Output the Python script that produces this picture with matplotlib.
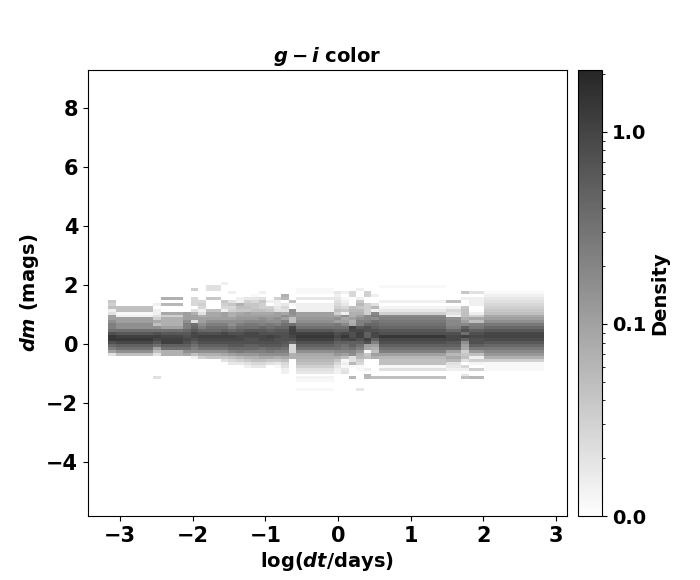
import numpy as np
import matplotlib
matplotlib.use('Agg')
import matplotlib.pyplot as plt
from matplotlib.colors import LogNorm
from matplotlib.ticker import FixedLocator, FormatStrFormatter, NullFormatter

# column edges in log(dt/days), irregular where neighbouring bins are merged
x_edges = [-3.16, -3.05, -2.54, -2.43, -2.13, -2.02, -1.93, -1.82, -1.61, -1.51, -1.40,
           -1.29, -1.20, -1.09, -0.99, -0.88, -0.78, -0.67, -0.58, -0.06, 0.04, 0.15,
           0.25, 0.36, 0.45, 0.56, 1.49, 1.69, 1.80, 2.01, 2.83]
# dm bins run from 2.1 downwards in 0.1 mag steps
dm_edges = [2.1, 2.0, 1.9, 1.8, 1.7, 1.6, 1.5, 1.4, 1.3, 1.2, 1.1, 1.0, 0.9, 0.8, 0.7, 0.6,
            0.5, 0.4, 0.3, 0.2, 0.1, 0.0, -0.1, -0.2, -0.3, -0.4, -0.5, -0.6, -0.7, -0.8,
            -0.9, -1.0, -1.1, -1.2, -1.3, -1.4, -1.5, -1.6]

# density per column, top row first, rows left out at the end are empty
c01 = [0, 0, 0, 0, 0, 0, .039, .032, .047, .0145, .021, .105, .105, .155, .23, .23, .34, .75, 1.37, 1.37, .75, .41, .23, .105, .021]
c02 = [0, 0, 0, 0, 0, 0, 0, 0, .047, .047, .012, .0145, .105, .105, .155, .155, .34, .61, 1.12, 1.37, .92, .5, .34, .155, .047]
c03 = [0, 0, 0, 0, 0, 0, 0, .0145, 0, .0145, .0145, .021, .032, .085, .047, .155, .34, .75, 1.12, .92, .61, .34, .105, .047, .021, 0, 0, 0, 0, 0, 0, 0, .021]
c04 = [0, 0, 0, 0, 0, .07, 0, .057, 0, 0, .085, .032, .07, .07, .07, .105, .34, .61, .92, 1.12, 1.12, .5, .34, .07, .07]
c05 = [0, 0, 0, 0, 0, 0, 0, 0, 0, 0, .105, .105, .105, .155, .23, .23, .41, .61, .75, .92, .75, .5, .34, .155, .085]
c06 = [0, 0, .032, 0, 0, .026, .026, .026, 0, .021, .07, .105, .105, .021, .34, .41, .61, .92, .92, .75, .5, .34, .23, .155, .047, .0145]
c07 = [0, 0, 0, 0, 0, 0, .026, .032, .026, .0145, .021, .07, .105, .105, .155, .23, .41, .75, 1.12, .92, .75, .5, .34, .155, .07, .032]
c08 = [0, .021, .021, 0, 0, .039, 0, 0, 0, .047, .085, .085, .105, .155, .23, .34, .41, .75, 1.12, .92, .75, .5, .34, .155, .07, .039]
c09 = [.0145, 0, 0, 0, 0, 0, .039, .032, .026, .0145, .105, .105, .105, .155, .23, .34, .5, .92, 1.12, .92, .75, .5, .34, .155, .085, .039, .021]
c10 = [0, 0, 0, .0145, 0, 0, .021, .039, .026, .032, .07, .07, .105, .155, .155, .23, .41, .75, 1.12, .92, .75, .61, .41, .23, .105, .047, .026, .018]
c11 = [0, 0, 0, 0, 0, .0145, .0145, .07, .047, .039, .085, .105, .127, .155, .23, .34, .5, .75, .92, .92, .75, .61, .41, .28, .127, .057, .032, .018]
c12 = [0, 0, 0, 0, 0, .018, .032, .039, .047, .039, .105, .105, .127, .19, .28, .34, .61, .92, .92, .75, .75, .5, .41, .23, .127, .07, .039, .021, .0145]
c13 = [0, 0, 0, 0, .012, .018, .026, .039, .039, .047, .085, .105, .127, .19, .28, .34, .61, .92, .92, .75, .75, .5, .41, .23, .127, .07, .047, .026, .018]
c14 = [0, 0, 0, .0145, 0, .021, .039, .032, .032, .047, .085, .105, .155, .19, .23, .41, .61, .75, .92, .92, .75, .61, .34, .23, .155, .085, .047, .026, .018]
c15 = [0, 0, 0, 0, 0, 0, .0145, 0, .032, .039, .085, .105, .127, .155, .28, .34, .5, .75, 1.12, .92, .75, .61, .41, .28, .155, .085, .039, .021]
c16 = [0, 0, 0, 0, 0, .032, .0145, .0145, .018, .021, .105, .105, .155, .155, .23, .41, .61, .75, .92, .75, .75, .61, .41, .23, .155, .07, .039, .018, .012]
c17 = [0, 0, 0, 0, .07, .057, 0, .018, .026, .021, .085, .155, .105, .23, .34, .41, .61, .75, .75, .75, .61, .5, .34, .23, .155, .085, .047, .026, .021, .0145, .0145]
c18 = [0, 0, 0, 0, 0, 0, .047, .012, 0, .155, .155, .127, .047, .047, .34, .92, 1.12, 1.12, .92, .75, .41, .026, .026, .026, .07, .07]
c19 = [0, 0, .012, .012, 0, .018, 0, .0145, .0145, .0145, .105, .105, .127, .155, .23, .34, .61, 1.12, 1.37, 1.12, .75, .5, .34, .155, .085, .07, .057, .047, .032, .021, .018, 0, .013, .012, 0, 0, .012]
c20 = [0, 0, 0, .018, .0145, .018, .021, .026, .032, .047, .032, .085, .155, .105, .28, .34, .5, .75, .92, .75, .5, .41, .34, .19, .127, .07, .039, .026, .018, .0145, .013]
c21 = [0, 0, 0, .0145, 0, .012, .0145, .018, .026, .039, .0145, .155, .085, .105, .19, .34, .5, .92, 1.37, .92, .5, .34, .28, .19, .105, .047, .012, .0145, .012, .018, .021]
c22 = [0, 0, 0, .026, .026, 0, 0, 0, .047, .057, .07, .07, .105, .07, .085, 1.12, .92, .75, .75, 1.0, .5, .5, .34, .19, .155, .021, .021, .057, .012, 0, 0, 0, .057]
c23 = [0, 0, .0145, 0, 0, .0145, .039, .057, .039, .057, .07, .105, .155, .23, .23, .61, .92, 1.12, 1.12, .75, .5, .34, .23, .127, .07, .057, .032, .026, .012, .012, 0, 0, 0, 0, 0, 0, .018]
c24 = [0, 0, 0, .032, .032, 0, 0, .032, .032, .032, .032, .19, .19, .23, .41, .75, .75, .5, .5, 1.12, .75, .105, .085, .012, .039, .047, 0, 0, 0, .0145, 0, .057, .057]
c25 = [0, 0, 0, 0, .0145, 0, 0, .021, .057, .0145, .19, .23, .155, .34, .41, .5, .75, .92, .92, .5, .23, .105, .07, .047, .105, .07, 0, 0, 0, 0, 0, 0, .047]
c26 = [0, .012, 0, 0, 0, 0, .0145, 0, .013, .018, .032, .19, .23, .28, .34, .41, .61, .75, 1.37, .92, .75, .5, .34, .23, .105, .057, .047, .047, .012, .021, 0, 0, .047]
c27 = [0, 0, 0, 0, 0, 0, .047, 0, .0145, .026, .021, .0145, .155, .19, .19, .23, .41, .75, .92, .92, .61, .5, .34, .105, .057, .085, .057, .021, .018, .0145]
c28 = [0, 0, 0, .039, 0, .0145, 0, 0, .039, .047, .047, .047, .07, .105, .19, .5, .75, .34, 1.12, .5, .155, .105, .085, .032, .039, .047, .021, 0, .026, .0145, 0, .018, .047]
c29 = [0, 0, 0, .021, 0, .0145, .0145, .0145, 0, 0, .0145, .032, .085, .047, .23, .28, .5, .75, .92, .75, .75, .5, .28, .127, .047, .0145, .032, .013, 0, .032, 0, 0, .057]
c30 = [0, 0, 0, .012, .0145, .018, .021, .026, .032, .039, .047, .085, .105, .155, .28, .41, .61, .92, 1.0, .85, .61, .41, .28, .19, .127, .07, .032, .012, .012, .012]

columns = [c01, c02, c03, c04, c05, c06, c07, c08, c09, c10, c11, c12, c13, c14, c15,
           c16, c17, c18, c19, c20, c21, c22, c23, c24, c25, c26, c27, c28, c29, c30]

x_ticks = [-3, -2, -1, 0, 1, 2, 3]
y_ticks = [-4, -2, 0, 2, 4, 6, 8]
cbar_major = [0.01, 0.1, 1.0]
cbar_minor = [.02, .03, .04, .05, .06, .07, .08, .09, .2, .3, .4, .5, .6, .7, .8, .9, 2.0]

plt.rcParams['font.weight'] = 'bold'
plt.rcParams['axes.labelweight'] = 'bold'
plt.rcParams['axes.titleweight'] = 'bold'

# pad every column to the full number of rows
n_rows = len(dm_edges) - 1
density = np.zeros((n_rows, len(columns)))
for j, col in enumerate(columns):
    density[:len(col), j] = col
density = np.ma.masked_equal(density, 0)

fig = plt.figure(figsize=(7, 5.8), dpi=100)
ax = fig.add_axes([88 / 700, 1 - 516 / 580, 479 / 700, 446 / 580])
cax = fig.add_axes([578 / 700, 1 - 516 / 580, 24 / 700, 446 / 580])

mesh = ax.pcolormesh(x_edges, dm_edges, density, cmap='gray_r', alpha=0.85,
                     norm=LogNorm(vmin=0.01, vmax=2.1), linewidth=0)
ax.set_xlim(-3.44, 3.15)
ax.set_ylim(-5.83, 9.29)
ax.set_xticks(x_ticks)
ax.set_yticks(y_ticks)
ax.tick_params(labelsize=15)
ax.set_xlabel(r'log($\mathbfit{dt}$/days)', fontsize=14, labelpad=3)
ax.set_ylabel(r'$\mathbfit{dm}$ (mags)', fontsize=14, labelpad=4)
ax.set_title(r'$\mathbfit{g-i}$ color', fontsize=14, pad=6)

cb = fig.colorbar(mesh, cax=cax)
cax.yaxis.set_major_locator(FixedLocator(cbar_major))
cax.yaxis.set_minor_locator(FixedLocator(cbar_minor))
cax.yaxis.set_major_formatter(FormatStrFormatter('%.1f'))
cax.yaxis.set_minor_formatter(NullFormatter())
cax.tick_params(labelsize=14)
cb.set_label('Density', fontsize=14, labelpad=3)

fig.savefig('out.png', dpi=100)
